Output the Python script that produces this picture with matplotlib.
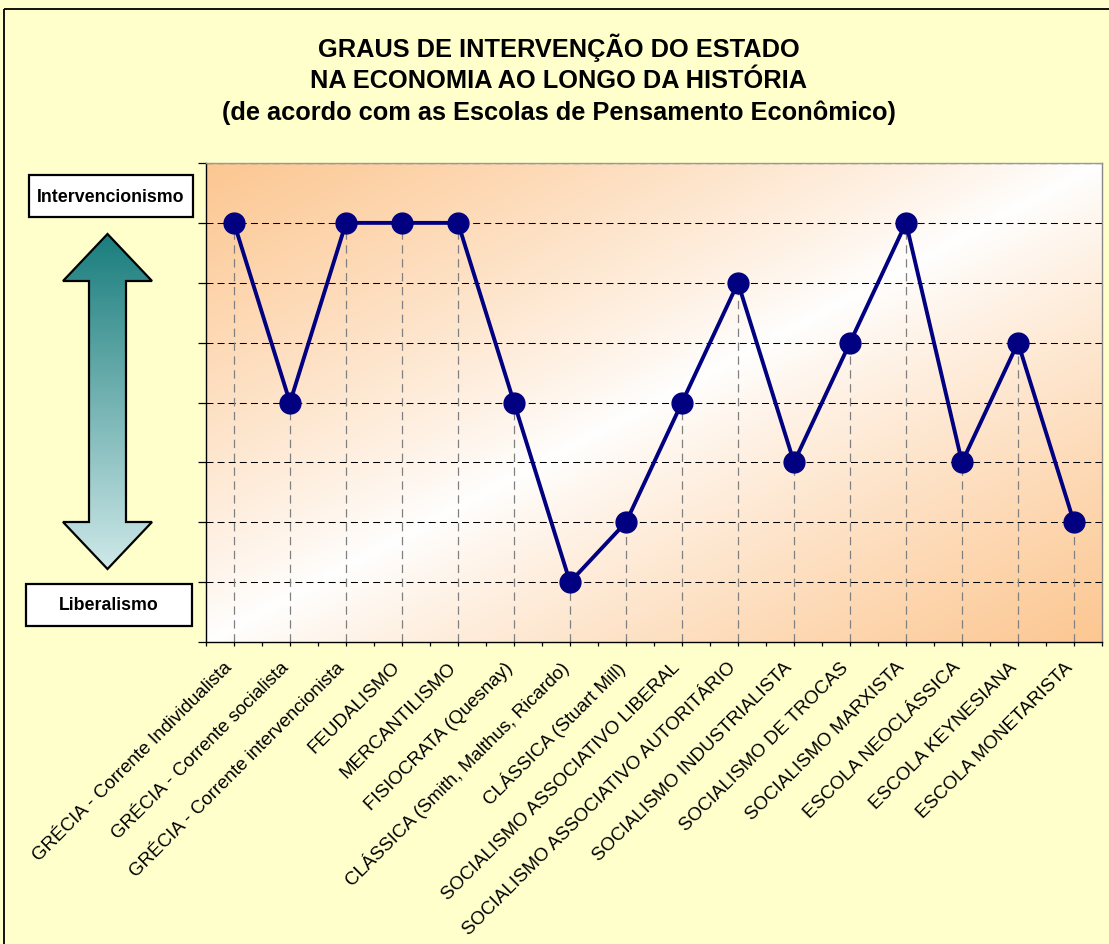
import numpy as np
import matplotlib
matplotlib.use("Agg")
import matplotlib.pyplot as plt
import matplotlib.transforms as mtransforms
from matplotlib.patches import Rectangle, Polygon

plt.rcParams['font.family'] = ['Liberation Sans', 'DejaVu Sans']
plt.rcParams['lines.scale_dashes'] = False

# ---------------- data ----------------
categories = [
    "GRÉCIA - Corrente Individualista",
    "GRÉCIA - Corrente socialista",
    "GRÉCIA - Corrente intervencionista",
    "FEUDALISMO",
    "MERCANTILISMO",
    "FISIOCRATA (Quesnay)",
    "CLÁSSICA (Smith, Malthus, Ricardo)",
    "CLÁSSICA (Stuart Mill)",
    "SOCIALISMO ASSOCIATIVO LIBERAL",
    "SOCIALISMO ASSOCIATIVO AUTORITÁRIO",
    "SOCIALISMO INDUSTRIALISTA",
    "SOCIALISMO DE TROCAS",
    "SOCIALISMO MARXISTA",
    "ESCOLA NEOCLÁSSICA",
    "ESCOLA KEYNESIANA",
    "ESCOLA MONETARISTA",
]
values = [7, 4, 7, 7, 7, 4, 1, 2, 4, 6, 3, 5, 7, 3, 5, 2]
title_lines = [
    "GRAUS DE INTERVENÇÃO DO ESTADO",
    "NA ECONOMIA AO LONGO DA HISTÓRIA",
    "(de acordo com as Escolas de Pensamento Econômico)",
]
top_label = "Intervencionismo"
bottom_label = "Liberalismo"
y_max = 8

W, H = 1109, 945
DPI = 100
fig = plt.figure(figsize=(W / DPI, H / DPI), dpi=DPI, facecolor="#FFFFCC")

# overlay axes in pixel coordinates (y down)
ov = fig.add_axes([0, 0, 1, 1], zorder=0)
ov.set_xlim(0, W)
ov.set_ylim(H, 0)
ov.axis("off")
ov.patch.set_alpha(0)

# outer frame (cut off at right / bottom)
ov.add_patch(Rectangle((4, 10), W + 20, H + 20, fill=False, edgecolor="black",
                       linewidth=1.3, clip_on=False))

# titles
for i, t in enumerate(title_lines):
    ov.text(559, 48 + i * 32.5, t, ha="center", va="center", fontsize=18.3,
            fontweight="bold", color="black")

# label boxes
ov.add_patch(Rectangle((29, 176), 164, 42, facecolor="white", edgecolor="black", linewidth=1.6))
ov.text(111, 197, top_label, ha="center", va="center", fontsize=12.8, fontweight="bold")
ov.add_patch(Rectangle((26, 585), 166, 42, facecolor="white", edgecolor="black", linewidth=1.6))
ov.text(109, 606, bottom_label, ha="center", va="center", fontsize=12.8, fontweight="bold")

# double arrow with vertical gradient
cx = 107.5
pts = [(cx, 235), (152, 282), (126, 282), (126, 523), (152, 523), (cx, 570),
       (63, 523), (89, 523), (89, 282), (63, 282)]
poly = Polygon(pts, closed=True, facecolor="none", edgecolor="black", linewidth=1.6, zorder=3)
ov.add_patch(poly)
top_c = np.array([0.10, 0.49, 0.49])
bot_c = np.array([0.81, 0.91, 0.91])
n = 256
tt = np.linspace(0, 1, n)[:, None, None]
grad = top_c[None, None, :] * (1 - tt) + bot_c[None, None, :] * tt
im = ov.imshow(grad, extent=(63, 152, 570, 235), origin="upper", aspect="auto", zorder=2)
im.set_clip_path(poly)

# ---------------- main axes ----------------
L, R, T, B = 206, 1102, 164, 643
ax = fig.add_axes([L / W, 1 - B / H, (R - L) / W, (B - T) / H], zorder=1)
ncat = len(categories)
ax.set_xlim(0, ncat)
ax.set_ylim(0, y_max)

# background gradient: white along the rising diagonal, orange toward the corners
gx, gy = np.meshgrid(np.linspace(0, 1, 400), np.linspace(1, 0, 300))
tmap = np.clip(np.abs(gy - gx), 0, 1)[..., None] ** 0.85
orange = np.array([0.99, 0.78, 0.57])
white = np.array([1.0, 1.0, 1.0])
bg = white * (1 - tmap) + orange * tmap
ax.imshow(bg, extent=(0, ncat, 0, y_max), origin="upper", aspect="auto", zorder=0)

# horizontal gridlines
for yv in range(1, y_max):
    ax.axhline(yv, color="black", linewidth=0.75, linestyle=(0, (5, 3)), zorder=1)
ax.axhline(y_max, color="#555555", linewidth=0.9, linestyle=(0, (5, 3)), zorder=1)

x = np.arange(ncat) + 0.5
# drop lines
ax.vlines(x, 0, values, colors="#808080", linewidth=0.9, linestyles=[(0, (6, 4))], zorder=2)
# series
ax.plot(x, values, color="#000080", linewidth=2.8, marker="o", markersize=15,
        markerfacecolor="#000080", markeredgecolor="#000080", zorder=3, clip_on=False)

# spines
ax.spines["left"].set_color("black")
ax.spines["bottom"].set_color("black")
ax.spines["top"].set_color("#999999")
ax.spines["right"].set_color("#888888")
for s in ax.spines.values():
    s.set_linewidth(1.0)

ax.set_yticks(range(0, y_max + 1))
ax.set_yticklabels([])
ax.tick_params(axis="y", direction="out", length=6, width=0.9, color="black")

ax.set_xticks(x)
ax.set_xticks(np.arange(0, ncat + 1), minor=True)
ax.set_xticklabels(categories, rotation=45, ha="right", va="center",
                   rotation_mode="anchor", fontsize=13.5)
ax.tick_params(axis="x", which="both", direction="out", length=3, width=0.9, color="black")
ax.tick_params(axis="x", which="major", pad=13)
shift = mtransforms.ScaledTranslation(-3 / 72, 0, fig.dpi_scale_trans)
for lab in ax.get_xticklabels():
    lab.set_transform(lab.get_transform() + shift)

fig.savefig("out.png", dpi=DPI, facecolor=fig.get_facecolor())
